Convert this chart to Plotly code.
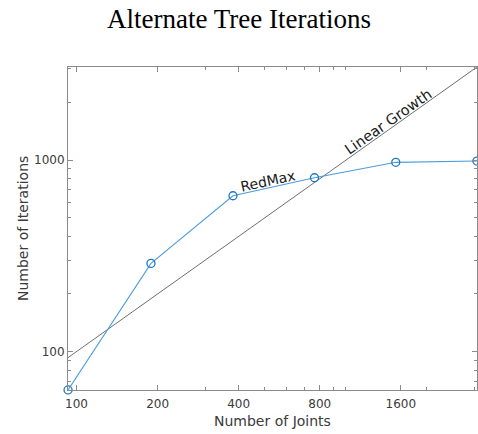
import math
import plotly.graph_objects as go

# Alternate tree benchmark: joint count vs. solver iterations
joints = [93, 189, 381, 765, 1533, 3069]
iterations = [63, 289, 652, 810, 975, 990]

# Reference line: iterations growing linearly with the joint count
linear_x = [93, 3069]
linear_y = [93, 3069]

x_major = [100, 200, 400, 800, 1600]
x_major_text = ["100", "200", "400", "800", "1600"]
x_minor = [300, 500, 600, 700, 900, 1000, 2000, 3000]
y_major = [100, 1000]
y_major_text = ["100", "1000"]
y_minor = [70, 80, 90, 200, 300, 400, 500, 600, 700, 800, 900, 2000, 3000]

AXIS_GRAY = "#8a8a8a"
TEXT_GRAY = "#3a3a3a"
BLUE_LINE = "#4a9ddb"
BLUE_MARK = "#1f77c4"
SANS = "DejaVu Sans"
EPS = 2e-4  # tiny pad so the corner point is not culled at the range edge

fig = go.Figure()

fig.add_trace(go.Scatter(
    x=linear_x, y=linear_y, mode="lines",
    line=dict(color="#5e5e5e", width=0.9),
    hoverinfo="skip", showlegend=False,
))

fig.add_trace(go.Scatter(
    x=joints, y=iterations, mode="lines+markers",
    line=dict(color=BLUE_LINE, width=1.1),
    marker=dict(symbol="circle-open", size=8, color=BLUE_MARK,
                line=dict(width=1.3, color=BLUE_MARK)),
    cliponaxis=False, showlegend=False,
))

axis_common = dict(
    type="log",
    showgrid=False, zeroline=False,
    showline=True, linecolor=AXIS_GRAY, linewidth=1,
    mirror="allticks",
    ticks="inside", ticklen=5, tickwidth=1, tickcolor=AXIS_GRAY,
    tickfont=dict(family=SANS, size=12, color=TEXT_GRAY),
)

fig.update_xaxes(
    **axis_common,
    range=[math.log10(joints[0]) - EPS, math.log10(linear_x[-1]) + EPS],
    tickmode="array", tickvals=x_major, ticktext=x_major_text,
    ticklabelstandoff=3,
    minor=dict(tickmode="array", tickvals=x_minor, ticks="inside",
               ticklen=3, tickcolor=AXIS_GRAY, showgrid=False),
)
fig.update_yaxes(
    **axis_common,
    range=[math.log10(iterations[0]) - EPS, math.log10(linear_y[-1]) + EPS],
    tickmode="array", tickvals=y_major, ticktext=y_major_text,
    minor=dict(tickmode="array", tickvals=y_minor, ticks="inside",
               ticklen=3, tickcolor=AXIS_GRAY, showgrid=False),
)

# Inline labels for the two curves
redmax_x = math.sqrt(joints[2] * joints[3])
redmax_y = math.sqrt(iterations[2] * iterations[3])
linear_label_at = 1480

annotations = [
    dict(x=math.log10(redmax_x), y=math.log10(redmax_y), xref="x", yref="y",
         text="RedMax", showarrow=False, textangle=-12,
         xshift=-6, yshift=6, xanchor="center", yanchor="middle",
         font=dict(family=SANS, size=14, color="#1a1a1a")),
    dict(x=math.log10(linear_label_at), y=math.log10(linear_label_at),
         xref="x", yref="y",
         text="Linear Growth", showarrow=False, textangle=-35,
         xshift=-4, yshift=6, xanchor="center", yanchor="middle",
         font=dict(family=SANS, size=14.5, color="#1a1a1a")),
    # axis titles
    dict(x=0.5, y=0, xref="paper", yref="paper", yshift=-31,
         text="Number of Joints", showarrow=False,
         xanchor="center", yanchor="middle",
         font=dict(family=SANS, size=14, color=TEXT_GRAY)),
    dict(x=0, y=0.5, xref="paper", yref="paper", xshift=-45.5,
         text="Number of Iterations", showarrow=False, textangle=-90,
         xanchor="center", yanchor="middle",
         font=dict(family=SANS, size=14, color=TEXT_GRAY)),
]

fig.update_layout(
    width=478, height=434,
    margin=dict(l=68, r=1, t=67, b=44),
    paper_bgcolor="white", plot_bgcolor="white",
    title=dict(text="Alternate Tree Iterations",
               x=0.5, xref="container", xanchor="center",
               y=1 - 19 / 434, yref="container", yanchor="middle",
               font=dict(family="Liberation Serif", size=27, color="black")),
    annotations=annotations,
    showlegend=False,
)

fig.write_html("out.html")
